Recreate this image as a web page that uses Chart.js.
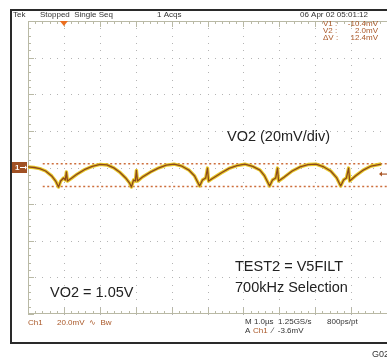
<!DOCTYPE html>
<html>
<head>
<meta charset="UTF-8">
<title>VO2 ripple</title>
<script src="https://cdn.jsdelivr.net/npm/chart.js@4.4.4/dist/chart.umd.min.js"></script>
<style>
body { margin: 0; background: #fff; }
#scope { display: block; }
</style>
</head>
<body>
<canvas id="scope" width="387" height="360"></canvas>
<script>
// trace: time in us, ch1 in mV (offset removed)
const timeUs = [0, 0.17, 0.33, 0.49, 0.66, 0.77, 0.85, 0.91, 0.99, 1.04, 1.07, 1.10, 1.21, 1.37, 1.57, 1.79, 2.01, 2.20, 2.39, 2.55, 2.72, 2.83, 2.88,
  2.94, 2.99, 3.02, 3.05, 3.19, 3.41, 3.63, 3.85, 4.07, 4.29, 4.48, 4.64, 4.78,
  4.86, 4.95, 5.00, 5.03, 5.16, 5.38, 5.60, 5.82, 6.04, 6.26, 6.46, 6.59, 6.73,
  6.81, 6.90, 6.95, 6.98, 7.14, 7.36, 7.58, 7.80, 8.02, 8.24, 8.43, 8.60, 8.71,
  8.79, 8.87, 8.93, 8.96, 9.12, 9.34, 9.56, 9.84];
const voltMv = [0.3, 0, -0.6, -1.9, -4.6, -7.4, -10.7, -7.4, -5.7, -6.8, -2.4, -7.4, -5.9, -3.6, -1.2, 0.6, 1.7, 1.4, -0.2, -2.5, -5.7, -8.5, -10.7,
  -6.8, -7.4, -1.6, -7.4, -5.2, -2.5, -0.3, 1.3, 1.8, 0.7, -1.4, -4.6, -10.1,
  -6.8, -5.7, -0.3, -7.4, -5.7, -3.0, -0.5, 1.0, 1.8, 0.6, -1.4, -4.6, -10.1,
  -6.8, -5.7, -0.3, -7.4, -5.2, -1.9, 0.3, 1.6, 1.8, 0.3, -1.9, -5.7, -10.1,
  -6.8, -5.7, -0.3, -7.4, -4.6, -1.4, 0.8, 1.9];

const cursorV1 = -10.4;
const cursorV2 = 2.0;
const cursorStartUs = 0.41;
const triggerLevelMv = -3.6;
const triggerPosUs = 1.0;

const xDivs = [0, 1, 2, 3, 4, 5, 6, 7, 8, 9, 10];
const yDivs = [-80, -60, -40, -20, 0, 20, 40, 60, 80];

const headerTexts = ['Tek', 'Stopped  Single Seq', '1 Acqs', '06 Apr 02 05:01:12'];
const cursorLabels = ['V1 :', 'V2 :', '\u0394V :'];
const cursorValues = ['-10.4mV', '2.0mV', '12.4mV'];
const notes = ['VO2 (20mV/div)', 'TEST2 = V5FILT', '700kHz Selection', 'VO2 = 1.05V'];

const BROWN = 'rgb(170,88,40)';
const GRAT = 'rgb(185,185,165)';

const toPts = () => timeUs.map((t, i) => ({ x: t, y: voltMv[i] }));
const cur1 = [{ x: cursorStartUs, y: cursorV1 }, { x: 10, y: cursorV1 }];
const cur2 = [{ x: cursorStartUs, y: cursorV2 }, { x: 10, y: cursorV2 }];

const graticule = {
  id: 'graticule',
  beforeDatasetsDraw(chart) {
    const c = chart.ctx, xs = chart.scales.x, ys = chart.scales.y;
    const top = ys.getPixelForValue(80), bot = ys.getPixelForValue(-80);
    const left = xs.getPixelForValue(0), right = xs.getPixelForValue(10);
    c.save();
    // dotted grid
    c.fillStyle = 'rgb(180,180,180)';
    xDivs.slice(1, -1).forEach(d => {
      const px = Math.round(xs.getPixelForValue(d));
      for (let v = -80; v <= 80; v += 4) c.fillRect(px, Math.round(ys.getPixelForValue(v)), 1, 1);
    });
    yDivs.slice(1, -1).forEach(d => {
      const py = Math.round(ys.getPixelForValue(d));
      for (let t = 0; t <= 10; t += 0.2) c.fillRect(Math.round(xs.getPixelForValue(t)), py, 1, 1);
    });
    // edges with ticks
    c.strokeStyle = GRAT;
    c.lineWidth = 1;
    c.beginPath();
    c.moveTo(left, top + 0.5); c.lineTo(right, top + 0.5);
    c.moveTo(left, bot - 0.5); c.lineTo(right, bot - 0.5);
    c.moveTo(left + 0.5, top); c.lineTo(left + 0.5, bot);
    for (let k = 0; k <= 50; k++) {
      const px = Math.round(xs.getPixelForValue(k * 0.2)) + 0.5;
      const len = k % 5 === 0 ? 6 : 3;
      c.moveTo(px, top); c.lineTo(px, top + len);
      c.moveTo(px, bot); c.lineTo(px, bot - len);
    }
    for (let k = 0; k <= 40; k++) {
      const py = Math.round(ys.getPixelForValue(-80 + k * 4)) + 0.5;
      const len = k % 5 === 0 ? 6 : 3;
      c.moveTo(left, py); c.lineTo(left + len, py);
    }
    c.stroke();
    c.restore();
  },
  afterDraw(chart) {
    const c = chart.ctx, xs = chart.scales.x, ys = chart.scales.y;
    const top = ys.getPixelForValue(80);
    c.save();
    // outer frame
    c.strokeStyle = '#2a2a2a';
    c.lineWidth = 2;
    c.beginPath();
    c.moveTo(388, 10); c.lineTo(11, 10); c.lineTo(11, 343); c.lineTo(388, 343);
    c.stroke();

    // trigger position
    const tx = xs.getPixelForValue(triggerPosUs);
    c.fillStyle = 'rgb(235,110,30)';
    c.beginPath();
    c.moveTo(tx - 4, top); c.lineTo(tx + 4, top); c.lineTo(tx, top + 5); c.closePath();
    c.fill();

    // ch1 reference marker
    const gy = ys.getPixelForValue(0);
    c.fillStyle = 'rgb(160,80,35)';
    c.fillRect(12, gy - 5.5, 15, 11);
    c.fillStyle = '#fff';
    c.font = 'bold 8px "Liberation Sans", Arial, sans-serif';
    c.textBaseline = 'middle';
    c.fillText('1', 15, gy);
    c.strokeStyle = '#fff'; c.lineWidth = 1;
    c.beginPath(); c.moveTo(20, gy); c.lineTo(25, gy); c.stroke();
    c.beginPath(); c.moveTo(25, gy - 2); c.lineTo(27, gy); c.lineTo(25, gy + 2); c.closePath(); c.fill();

    // trigger level arrow on the right
    const ty = ys.getPixelForValue(triggerLevelMv);
    c.strokeStyle = BROWN; c.fillStyle = BROWN; c.lineWidth = 1.2;
    c.beginPath(); c.moveTo(380, ty); c.lineTo(387, ty); c.stroke();
    c.beginPath(); c.moveTo(379, ty); c.lineTo(382, ty - 2.5); c.lineTo(382, ty + 2.5); c.closePath(); c.fill();

    // header
    c.font = '8px "Liberation Sans", Arial, sans-serif';
    c.textBaseline = 'middle';
    c.fillStyle = '#333';
    c.fillText(headerTexts[0], 13, 15);
    c.fillText(headerTexts[1], 40, 15);
    c.fillText(headerTexts[2], 157, 15);
    c.textAlign = 'right';
    c.fillText(headerTexts[3], 368, 15);

    // cursor readouts
    c.fillStyle = BROWN;
    cursorLabels.forEach((s, i) => {
      c.textAlign = 'left';
      c.fillText(s, 323, 24 + i * 7);
      c.textAlign = 'right';
      c.fillText(cursorValues[i], 378, 24 + i * 7);
    });

    // bottom status lines
    c.textAlign = 'left';
    c.fillStyle = BROWN;
    c.fillText('Ch1', 28, 323);
    c.fillText('20.0mV  \u223F  Bw', 57, 323);
    c.fillStyle = '#333';
    c.fillText('M 1.0\u00B5s  1.25GS/s', 245, 322);
    c.fillText('800ps/pt', 327, 322);
    c.fillText('A', 245, 331);
    c.fillStyle = BROWN;
    c.fillText('Ch1', 253, 331);
    c.fillStyle = '#333';
    c.fillText('\u2215  -3.6mV', 272, 331);
    c.font = '9px "Liberation Sans", Arial, sans-serif';
    c.fillText('G025', 372, 355);

    // annotations
    c.fillStyle = '#222';
    c.font = '14.5px "Liberation Sans", Arial, sans-serif';
    c.fillText(notes[0], 227, 137);
    c.fillText(notes[1], 235, 267);
    c.fillText(notes[2], 235, 288);
    c.fillText(notes[3], 50, 293);
    c.restore();
  }
};

// chart.js paints dataset 0 last, so the brown core goes first
new Chart(document.getElementById('scope').getContext('2d'), {
  type: 'line',
  data: {
    datasets: [
      { data: toPts(), borderColor: 'rgb(140,72,28)', borderWidth: 1.3, borderJoinStyle: 'round', pointRadius: 0, tension: 0 },
      { data: toPts(), borderColor: 'rgb(232,200,40)', borderWidth: 3.4, borderJoinStyle: 'round', pointRadius: 0, tension: 0 },
      { data: cur1, borderColor: 'rgb(205,110,60)', borderWidth: 1.5, borderDash: [2, 2.5], pointRadius: 0 },
      { data: cur2, borderColor: 'rgb(205,110,60)', borderWidth: 1.5, borderDash: [2, 2.5], pointRadius: 0 }
    ]
  },
  options: {
    responsive: false,
    animation: false,
    devicePixelRatio: 1,
    layout: { padding: { left: 28, top: 21, right: -5, bottom: 46 } },
    plugins: { legend: { display: false }, tooltip: { enabled: false } },
    scales: {
      x: { type: 'linear', min: 0, max: 10, display: false },
      y: { min: -80, max: 80, display: false }
    }
  },
  plugins: [graticule]
});
</script>
</body>
</html>
